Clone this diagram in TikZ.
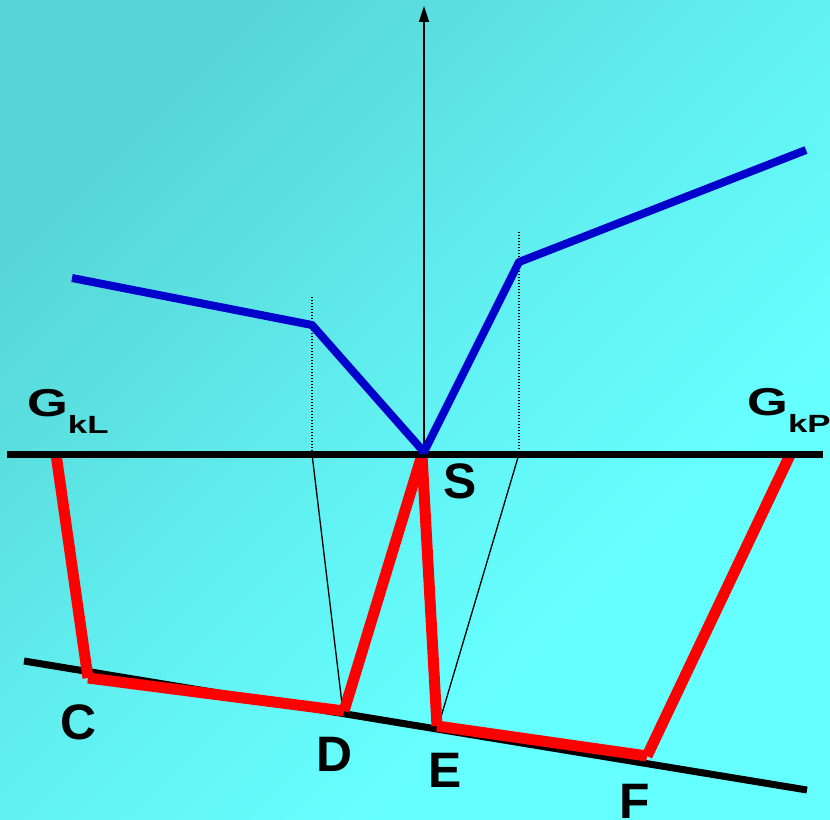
\documentclass[tikz,border=0pt]{standalone}
\usepackage{graphicx}
\usepackage{fontspec}
\setmainfont{Liberation Sans}
\usetikzlibrary{arrows.meta}
\definecolor{bgA}{HTML}{57D4D5}
\definecolor{bgM}{HTML}{62F1F2}
\definecolor{bgB}{HTML}{66FFFF}
\definecolor{blueL}{HTML}{0000CC}
\definecolor{redL}{HTML}{FF0000}
\pgfdeclarehorizontalshading{bgsh}{100bp}{color(0bp)=(bgA); color(25bp)=(bgA); color(50bp)=(bgM); color(66bp)=(bgB); color(100bp)=(bgB)}
\newcommand{\bigG}{\fontsize{39}{39}\selectfont\scalebox{1.35}[1]{G}}
\newcommand{\subG}[1]{\raisebox{-17bp}{\fontsize{25}{25}\selectfont\scalebox{1.4}[1]{#1}}}
\begin{document}
\begin{tikzpicture}[x=1bp,y=-1bp,
  axisline/.style={line width=1.6bp,-{Triangle[length=16bp,width=10bp]}},
  groundline/.style={line width=7bp},
  blueline/.style={line width=8bp,draw=blueL,line join=bevel},
  redseg/.style={line width=11bp,draw=redL,line cap=butt},
  thinline/.style={line width=1.3bp},
  dotline/.style={line width=1.3bp,dash pattern=on 1.3bp off 1.7bp},
  ptlab/.style={font=\bfseries\fontsize{50}{50}\selectfont,inner sep=0pt,anchor=base},
  glab/.style={font=\bfseries,inner sep=0pt,anchor=base west}]
\useasboundingbox (0,0) rectangle (830,820);
\shade[shading=bgsh,shading angle=-45] (0,0) rectangle (830,820);
% coordinates
\coordinate (HL) at (7,454);
\coordinate (HR) at (823,454);
\coordinate (S) at (424,454);
\coordinate (Ssr) at (422,455);
\coordinate (Top) at (424,6);
\coordinate (BL) at (24,661);
\coordinate (BR) at (807,790);
\coordinate (B1) at (72,278);
\coordinate (B2) at (312,325);
\coordinate (Sb) at (424,452);
\coordinate (B3) at (519,262);
\coordinate (B4) at (806,150);
\coordinate (DT1) at (312,297);
\coordinate (DB1) at (312,454);
\coordinate (DT2) at (519,232);
\coordinate (DB2) at (519,454);
\coordinate (P0) at (56,454);
\coordinate (C) at (88,678);
\coordinate (D) at (344,711);
\coordinate (E) at (437,726);
\coordinate (F) at (647,756);
\coordinate (P6) at (790,455);
\coordinate (Dt) at (343,712);
\coordinate (Et) at (438,727);
% lines
\draw[groundline] (BL) -- (BR);
\draw[thinline] (DB1) -- (Dt);
\draw[thinline] (DB2) -- (Et);
\draw[dotline] (DT1) -- (DB1);
\draw[dotline] (DT2) -- (DB2);
\draw[axisline] (S) -- (Top);
\draw[redseg] (P0) -- (C);
\draw[redseg] (C) -- (D);
\draw[redseg] (D) -- (Ssr);
\draw[redseg] (Ssr) -- (E);
\draw[redseg] (E) -- (F);
\draw[redseg] (F) -- (P6);
\draw[groundline] (HL) -- (HR);
\draw[blueline] (B1) -- (B2) -- (Sb) -- (B3) -- (B4);
% labels
\node[glab] (GkL) at (27,416) {\bigG\subG{kL}};
\node[glab] (GkP) at (747,415) {\bigG\subG{kP}};
\node[ptlab] (labS) at (460,498) {S};
\node[ptlab] (labC) at (78,739) {C};
\node[ptlab] (labD) at (334,771) {D};
\node[ptlab] (labE) at (445,787) {E};
\node[ptlab] (labF) at (635,818) {F};
\end{tikzpicture}
\end{document}
